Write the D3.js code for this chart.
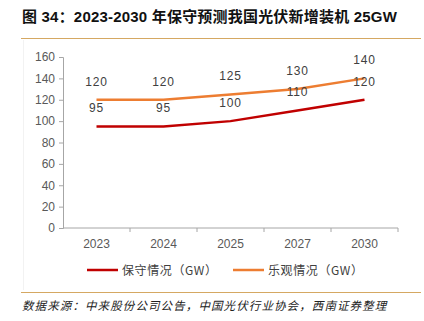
<!DOCTYPE html>
<html>
<head>
<meta charset="utf-8">
<script src="https://cdn.jsdelivr.net/npm/d3@7"></script>
<style>
  body { margin: 0; background: #fff; }
  svg { display: block; }
</style>
</head>
<body>
<div id="chart"></div>
<script>
'use strict'

const years = ['2023', '2024', '2025', '2027', '2030'];
const conservative = [95, 95, 100, 110, 120];
const optimistic = [120, 120, 125, 130, 140];
const yTicks = [0, 20, 40, 60, 80, 100, 120, 140, 160];
const seriesNames = ['保守情况（GW）', '乐观情况（GW）'];
const seriesColors = ['#c00000', '#ed7d31'];

const W = 424, H = 321;
const cjk = '"Noto Sans CJK SC", sans-serif';
const latin = '"Liberation Sans", Arial, sans-serif';

const svg = d3.select('#chart').append('svg')
    .attr('width', W)
    .attr('height', H);

// title
svg.append('text')
    .attr('x', 22)
    .attr('y', 22)
    .attr('font-family', latin + ',' + cjk)
    .attr('font-weight', 'bold')
    .attr('font-size', 15)
    .attr('letter-spacing', 0.2)
    .attr('fill', '#111')
    .text('图 34：2023-2030 年保守预测我国光伏新增装机 25GW');

svg.append('line')
    .attr('x1', 21).attr('x2', 421)
    .attr('y1', 38.5).attr('y2', 38.5)
    .attr('stroke', '#d5a862').attr('stroke-width', 1);

// faint frame on left
svg.append('line')
    .attr('x1', 23.5).attr('x2', 23.5)
    .attr('y1', 40).attr('y2', 290)
    .attr('stroke', '#f2f2f2').attr('stroke-width', 1);

svg.append('line')
    .attr('x1', 21).attr('x2', 421)
    .attr('y1', 292.5).attr('y2', 292.5)
    .attr('stroke', '#d5a862').attr('stroke-width', 1);

svg.append('text')
    .attr('x', 22)
    .attr('y', 310)
    .attr('font-family', cjk)
    .attr('font-style', 'italic')
    .attr('font-size', 11.5)
    .attr('letter-spacing', 1.1)
    .attr('fill', '#222')
    .text('数据来源：中来股份公司公告，中国光伏行业协会，西南证券整理');

// plot
const x = d3.scaleBand().domain(years).range([63, 398]);
const y = d3.scaleLinear().domain([0, 160]).range([228, 57]);

const axisColor = '#a6a6a6';

const yAxis = svg.append('g')
    .attr('transform', 'translate(63,0)')
    .call(d3.axisLeft(y).tickValues(yTicks).tickSize(4).tickPadding(4));
yAxis.select('.domain').attr('stroke', axisColor);
yAxis.selectAll('.tick line').attr('stroke', axisColor);
yAxis.selectAll('.tick text')
    .attr('font-family', latin).attr('font-size', 12).attr('fill', '#595959');

const xAxis = svg.append('g')
    .attr('transform', 'translate(0,228)')
    .call(d3.axisBottom(x).tickSize(0).tickPadding(11));
xAxis.select('.domain').attr('stroke', axisColor).attr('d', 'M63,0H398');
xAxis.selectAll('.tick text')
    .attr('font-family', latin).attr('font-size', 12).attr('fill', '#595959');

// tick marks at band boundaries
xAxis.selectAll('.bound')
    .data(years.slice(1).concat(['end']))
    .enter().append('line')
    .attr('class', 'bound')
    .attr('x1', d => d === 'end' ? 398 : x(d))
    .attr('x2', d => d === 'end' ? 398 : x(d))
    .attr('y1', 0).attr('y2', 4)
    .attr('stroke', axisColor);

const line = d3.line()
    .x((d, i) => x(years[i]) + x.bandwidth() / 2)
    .y(d => y(d));

const series = [conservative, optimistic];

svg.selectAll('.series')
    .data(series)
    .enter().append('path')
    .attr('class', 'series')
    .attr('d', d => line(d))
    .attr('fill', 'none')
    .attr('stroke', (d, i) => seriesColors[i])
    .attr('stroke-width', 2.5);

series.forEach(vals => {
    svg.append('g').selectAll('text')
        .data(vals)
        .enter().append('text')
        .attr('x', (d, i) => x(years[i]) + x.bandwidth() / 2)
        .attr('y', d => y(d) - 14)
        .attr('text-anchor', 'middle')
        .attr('font-family', latin)
        .attr('font-size', 12)
        .attr('letter-spacing', 0.8)
        .attr('fill', '#404040')
        .text(d => d);
});

// legend
const legendX = [87, 233];
seriesNames.forEach((name, i) => {
    const g = svg.append('g').attr('transform', `translate(${legendX[i]},270)`);
    g.append('line')
        .attr('x1', 0).attr('x2', 31)
        .attr('y1', 0).attr('y2', 0)
        .attr('stroke', seriesColors[i]).attr('stroke-width', 2.5);
    g.append('text')
        .attr('x', 35).attr('y', 4.5)
        .attr('font-family', cjk)
        .attr('font-size', 12)
        .attr('letter-spacing', 0.6)
        .attr('fill', '#404040')
        .text(name);
});
</script>
</body>
</html>
